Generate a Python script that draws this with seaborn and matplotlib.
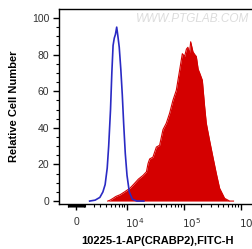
import numpy as np
import pandas as pd
import seaborn as sns
import matplotlib
matplotlib.use("Agg")
import matplotlib.pyplot as plt
import matplotlib.transforms as mtrans

# Isotype control histogram (blue outline)
ctrl_x = [1500, 2200, 2900, 3400, 3800, 4200, 4500, 4900, 5200, 5500, 5800,
          6100, 6450, 6800, 7200, 7700, 8200, 8700, 9300, 10000, 11000,
          12500, 15000, 20000]
ctrl_y = [0, 0.5, 2, 5, 9, 18, 30, 50, 70, 85, 89, 91, 95, 90, 84, 72, 58,
          42, 26, 14, 5, 1, 0, 0]

# CRABP2 stained histogram (red filled)
stain_x = [4300, 4800, 5500, 6200, 7500, 9000, 11300, 13500, 16000, 19300,
           22200, 23700, 25300, 28900, 33200, 37900, 43400, 49600, 56800,
           64900, 74400, 85100, 94900, 104000, 112000, 119000, 126000,
           133000, 146000, 157000, 167000, 180000, 191000, 213000, 234000,
           250000, 286000, 327000, 375000, 428000, 524000, 641000, 750000]
stain_y = [0, 0.5, 1.5, 2.5, 3.5, 5, 7, 9.5, 12, 14, 16, 20.5, 23, 24, 29.5,
           30.5, 39, 42.5, 48, 55, 60.5, 71.5, 80.5, 79, 83, 84, 80, 87,
           81.5, 80, 79, 72, 70, 66, 51.5, 42.5, 33, 24, 15, 7, 1.5, 0, 0]

x_ticks = [0, 1e4, 1e5, 1e6]
x_tick_labels = ["0", "$10^4$", "$10^5$", "$10^6$"]
y_ticks = [0, 20, 40, 60, 80, 100]

ctrl = pd.DataFrame({"x": ctrl_x, "y": ctrl_y})
stain = pd.DataFrame({"x": stain_x, "y": stain_y})

plt.rcParams['font.family'] = ['Liberation Sans', 'DejaVu Sans']

fig = plt.figure(figsize=(2.52, 2.49), dpi=100)
ax = fig.add_axes([59 / 252, 45 / 249, 197 / 252, 195 / 249])
ax.set_xscale("asinh", linear_width=2590)

# filled stained sample, then the control outline on top
ax.fill_between(stain["x"], stain["y"], color="#d40000", lw=0, zorder=2)
sns.lineplot(data=stain, x="x", y="y", color="#d40000", lw=0.8, sort=False,
             ax=ax, zorder=2)
sns.lineplot(data=ctrl, x="x", y="y", color="#2a2ac4", lw=1.2, sort=False,
             ax=ax, zorder=3)

ax.set_xlim(-1922, 1.861e6)
ax.set_ylim(-1.6, 104.9)

ax.set_xticks(x_ticks)
ax.set_xticklabels(x_tick_labels)
minor = [m * 10 ** e for e in (3, 4, 5) for m in range(2, 10)]
minor += [-m * 100 for m in range(1, 10)] + [m * 100 for m in range(1, 11)]
ax.set_xticks(minor, minor=True)
ax.set_yticks(y_ticks)
ax.set_yticks(np.arange(0, 105, 5), minor=True)

ax.tick_params(axis="both", which="major", length=4, width=1, labelsize=7.5,
               labelcolor="#333333")
ax.tick_params(axis="x", which="major", pad=5)
ax.tick_params(axis="y", which="major", pad=3)
ax.tick_params(axis="both", which="minor", length=2, width=0.8)

# power-of-ten labels start at their tick, like the cytometer export
offset = mtrans.ScaledTranslation(-1.5 / 72, 0, fig.dpi_scale_trans)
for lab in ax.get_xticklabels()[1:]:
    lab.set_ha("left")
    lab.set_transform(lab.get_transform() + offset)

for sp in ax.spines.values():
    sp.set_linewidth(1)
    sp.set_color("black")

ax.set_xlabel("10225-1-AP(CRABP2),FITC-H", fontsize=8, fontweight="bold",
              labelpad=4)
ax.set_ylabel("Relative Cell Number", fontsize=8, fontweight="bold",
              labelpad=9)

fig.text(249 / 252, 1 - 19 / 249, "WWW.PTGLAB.COM", ha="right", va="center",
         fontsize=8.5, fontstyle="italic", color="#dcdcdc")

fig.savefig("out.png", dpi=100)
